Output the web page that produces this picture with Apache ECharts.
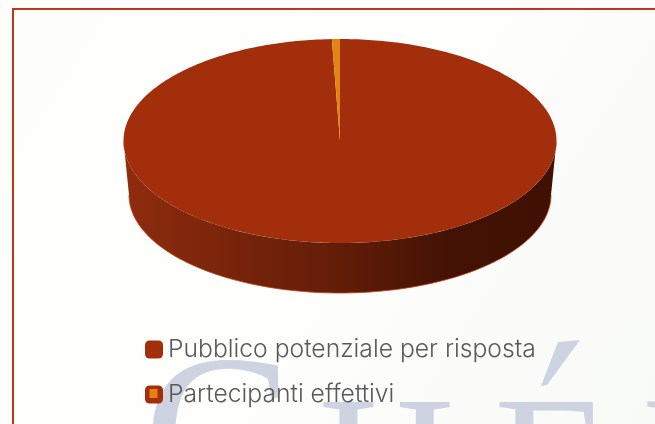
<!DOCTYPE html>
<html><head><meta charset="utf-8">
<style>html,body{margin:0;padding:0;background:#fdfdfb}#c{width:655px;height:424px}</style>
<script src="https://cdn.jsdelivr.net/npm/echarts@6/dist/echarts.min.js"></script>
</head><body><div id="c"></div>
<script>
const categories = ['Pubblico potenziale per risposta', 'Partecipanti effettivi'];
const values = [99.4, 0.6];
const colors = ['#A32E0C', '#E48312'];

const total = values.reduce((a, b) => a + b, 0);
const top3d = {cx: 340, cy: 141, rx: 216.5, ry: 102};
const bottom3d = {cx: 340, cy: 195, rx: 211, ry: 98};
const pt = (e, t) => [e.cx + e.rx * Math.sin(t), e.cy - e.ry * Math.cos(t)];
function arc(e, a, b, n) {
  const out = [];
  for (let i = 0; i <= n; i++) out.push(pt(e, a + (b - a) * i / n));
  return out;
}
function sliceRange(idx) {
  let s = 0;
  for (let i = 0; i < idx; i++) s += values[i];
  return [s / total * 2 * Math.PI, (s + values[idx]) / total * 2 * Math.PI];
}
function makeRender(idx) {
  return function () {
    const [a, b] = sliceRange(idx);
    const kids = [];
    if (idx === 0) {
      const wallTop = arc(top3d, Math.PI / 2, Math.PI * 1.5, 120);
      const wallBot = arc(bottom3d, Math.PI * 1.5, Math.PI / 2, 120);
      kids.push({
        type: 'polygon',
        shape: {points: wallTop.concat(wallBot)},
        style: {fill: new echarts.graphic.LinearGradient(0, 0, 1, 0, [
          {offset: 0, color: '#8F2C0D'},
          {offset: 0.25, color: '#78240B'},
          {offset: 0.5, color: '#621D08'},
          {offset: 0.75, color: '#431204'},
          {offset: 1, color: '#3F1003'}
        ])}
      });
      kids.push({
        type: 'polyline',
        shape: {points: arc(bottom3d, Math.PI / 2, Math.PI * 1.5, 120)},
        style: {stroke: '#B8411E', lineWidth: 1, fill: null, opacity: 0.8}
      });
    }
    const n = Math.max(2, Math.ceil((b - a) * 60));
    kids.push({
      type: 'polygon',
      shape: {points: [[top3d.cx, top3d.cy]].concat(arc(top3d, a, b, n))},
      style: {fill: colors[idx]}
    });
    return {type: 'group', children: kids};
  };
}
const wm = (text, x, y, size) => ({
  type: 'text', silent: true, z: -5,
  style: {text, x, y, font: size + 'px "Liberation Serif"', fill: '#CDD3E0', verticalAlign: 'top'}
});
const chart = echarts.init(document.getElementById('c'), null, {renderer: 'canvas'});
chart.setOption({
  animation: false,
  backgroundColor: new echarts.graphic.LinearGradient(0, 0, 1, 1, [
    {offset: 0, color: '#FDFDFA'},
    {offset: 0.5, color: '#FEFEFD'},
    {offset: 1, color: '#F8FAF6'}
  ]),
  graphic: {
    elements: [
      wm('C', 143, 337, 225),
      wm('H', 318, 382, 190),
      wm('E', 494, 382, 190),
      wm('R', 642, 382, 190),
      {type: 'polygon', silent: true, z: -5,
       shape: {points: [[558, 342], [580, 340], [547, 385], [541, 386]]},
       style: {fill: '#CDD3E0'}},
      {type: 'rect', silent: true, z: -4,
       shape: {x: 13, y: 9, width: 660, height: 440},
       style: {fill: 'transparent', stroke: '#B83A1B', lineWidth: 2}},
      {type: 'rect', silent: true, z: 100,
       shape: {x: 149.5, y: 389, width: 8, height: 9},
       style: {fill: colors[1]}}
    ]
  },
  legend: {
    orient: 'vertical', left: 140, top: 332,
    itemWidth: 18, itemHeight: 18, itemGap: 20,
    textStyle: {fontFamily: 'Inter', fontSize: 24.7, color: '#595959', fontWeight: 300},
    data: [
      {name: categories[0], icon: 'roundRect', itemStyle: {color: colors[0]}},
      {name: categories[1], icon: 'roundRect', itemStyle: {color: colors[0]}}
    ]
  },
  series: categories.map((name, i) => ({
    type: 'custom', name, coordinateSystem: 'none',
    renderItem: makeRender(i), silent: true,
    data: [values[i]],
    itemStyle: {color: colors[i]}
  }))
});
</script></body></html>
